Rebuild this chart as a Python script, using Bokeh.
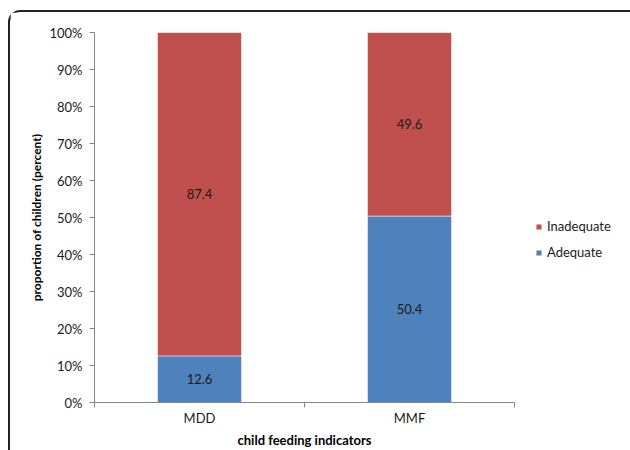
from bokeh.plotting import figure
from bokeh.models import (ColumnDataSource, Range1d, FixedTicker, PrintfTickFormatter,
                          Legend, LegendItem, LabelSet)
from bokeh.core.properties import value
from bokeh.embed import file_html
from bokeh.resources import INLINE

categories = ["MDD", "MMF"]
adequate = [12.6, 50.4]
inadequate = [87.4, 49.6]
series_names = ["Adequate", "Inadequate"]
colors = ["#4F81BD", "#C0504D"]
y_ticks = [0, 10, 20, 30, 40, 50, 60, 70, 80, 90, 100]

FONT = "Lato"

xpos = [i + 0.5 for i in range(len(categories))]
src = ColumnDataSource(dict(
    x=xpos,
    cat=categories,
    adequate=adequate,
    inadequate=inadequate,
    top_a=adequate,
    bottom_i=adequate,
    top_i=[a + b for a, b in zip(adequate, inadequate)],
    lab_a=[a / 2 for a in adequate],
    lab_i=[a + b / 2 for a, b in zip(adequate, inadequate)],
    txt_a=[f"{v:.1f}" for v in adequate],
    txt_i=[f"{v:.1f}" for v in inadequate],
))

p = figure(frame_width=420, frame_height=370, output_backend="svg", toolbar_location=None,
           x_range=Range1d(0, len(categories)), y_range=Range1d(0, 100),
           min_border_left=84, min_border_right=116, min_border_top=20, min_border_bottom=46,
           styles={"margin-left": "8px", "margin-top": "10px",
                   "border-top": "2px solid #222", "border-left": "2px solid #222",
                   "border-top-left-radius": "12px"})

r_a = p.vbar(x="x", bottom=0, top="top_a", width=0.4, source=src,
             fill_color=colors[0], line_color="white", line_alpha=0.5, line_width=1)
r_i = p.vbar(x="x", bottom="bottom_i", top="top_i", width=0.4, source=src,
             fill_color=colors[1], line_color="white", line_alpha=0.5, line_width=1)

for ycol, tcol in (("lab_a", "txt_a"), ("lab_i", "txt_i")):
    p.add_layout(LabelSet(x="x", y=ycol, text=tcol, source=src, text_align="center",
                          text_baseline="middle", text_font=value(FONT), text_font_size="13px",
                          text_color="#1a1a1a"))

p.xgrid.visible = False
p.ygrid.visible = False
p.outline_line_color = None

# y axis
p.yaxis.ticker = FixedTicker(ticks=y_ticks)
p.yaxis.formatter = PrintfTickFormatter(format="%d%%")
p.yaxis.axis_line_color = "#868686"
p.yaxis.major_tick_line_color = "#868686"
p.yaxis.major_tick_out = 5
p.yaxis.major_tick_in = 0
p.yaxis.minor_tick_line_color = None
p.yaxis.major_label_standoff = 7
p.yaxis.major_label_text_font = FONT
p.yaxis.major_label_text_font_size = "13px"
p.yaxis.major_label_text_color = "#1a1a1a"
p.yaxis.axis_label = "proportion of children (percent)"
p.yaxis.axis_label_text_font = FONT
p.yaxis.axis_label_text_font_size = "12px"
p.yaxis.axis_label_text_font_style = "bold"
p.yaxis.axis_label_text_color = "#000000"
p.yaxis.axis_label_standoff = 2

# x axis
p.xaxis.ticker = FixedTicker(ticks=xpos, minor_ticks=list(range(len(categories) + 1)))
p.xaxis.major_label_overrides = {x: c for x, c in zip(xpos, categories)}
p.xaxis.axis_line_color = "#868686"
p.xaxis.major_tick_line_color = None
p.xaxis.major_tick_out = 0
p.xaxis.major_tick_in = 0
p.xaxis.minor_tick_line_color = "#868686"
p.xaxis.minor_tick_out = 5
p.xaxis.minor_tick_in = 0
p.xaxis.major_label_standoff = 2
p.xaxis.major_label_text_font = FONT
p.xaxis.major_label_text_font_size = "13px"
p.xaxis.major_label_text_color = "#1a1a1a"
p.xaxis.axis_label = "child feeding indicators"
p.xaxis.axis_label_text_font = FONT
p.xaxis.axis_label_text_font_size = "13px"
p.xaxis.axis_label_text_font_style = "bold"
p.xaxis.axis_label_text_color = "#000000"
p.xaxis.axis_label_standoff = 3

legend = Legend(items=[LegendItem(label=series_names[1], renderers=[r_i]),
                       LegendItem(label=series_names[0], renderers=[r_a])],
                location=(21, 142), orientation="vertical",
                glyph_width=7, glyph_height=7, label_standoff=5, spacing=10,
                label_text_font=FONT, label_text_font_size="13px", label_text_color="#1a1a1a",
                label_height=14, padding=0, margin=0, border_line_color=None,
                background_fill_alpha=0)
p.add_layout(legend, "right")

open("out.html", "w").write(file_html(p, INLINE))
